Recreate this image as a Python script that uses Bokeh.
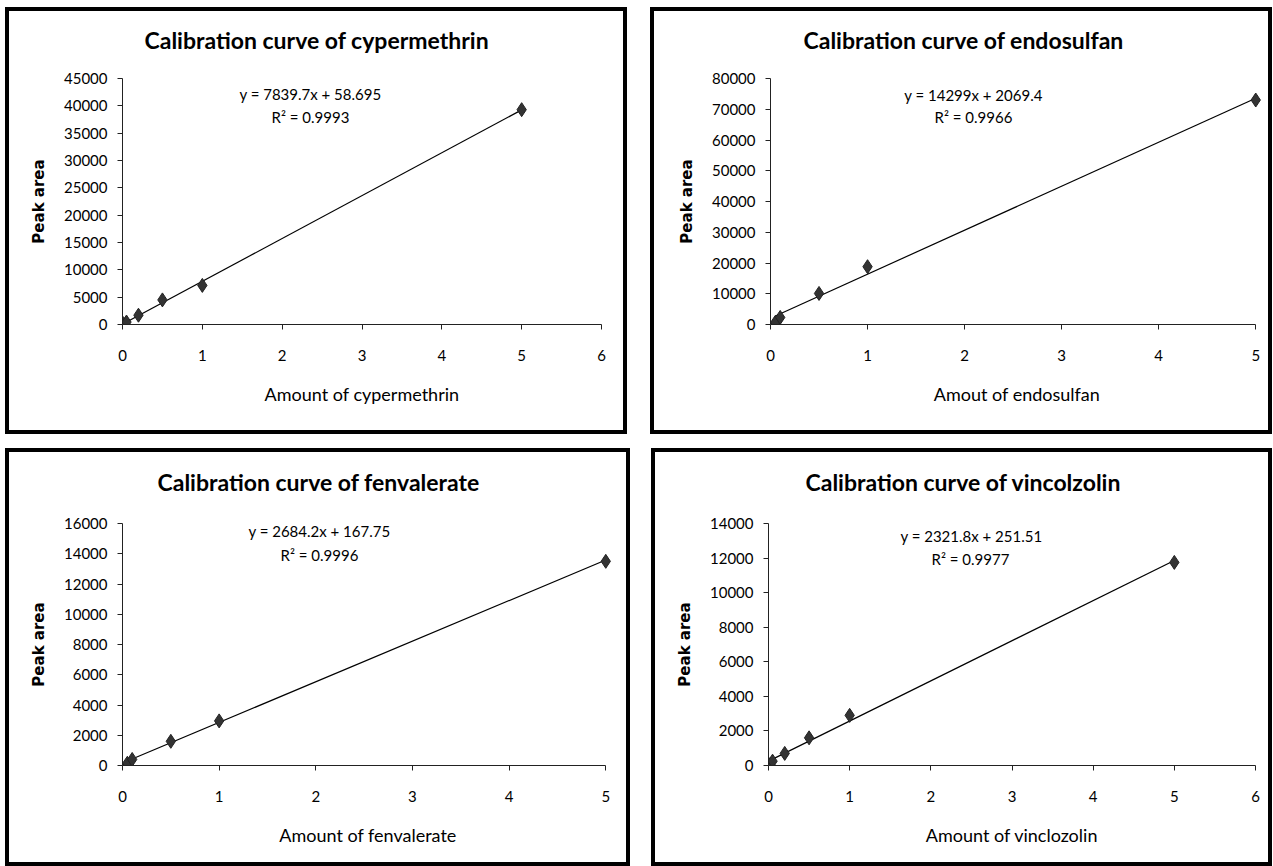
from bokeh.plotting import figure
from bokeh.models import Label, FixedTicker, Range1d, Title
from bokeh.layouts import column, row
from bokeh.embed import file_html
from bokeh.resources import INLINE

# ---- data ----
cyp_x = [0.01, 0.05, 0.2, 0.5, 1, 5]
cyp_y = [150, 450, 1700, 4500, 7150, 39300]
endo_x = [0.05, 0.1, 0.5, 1, 5]
endo_y = [700, 2300, 10100, 18800, 73000]
fen_x = [0.05, 0.1, 0.5, 1, 5]
fen_y = [150, 400, 1600, 2950, 13500]
vin_x = [0.02, 0.05, 0.2, 0.5, 1, 5]
vin_y = [60, 250, 700, 1600, 2900, 11750]

slopes = [7839.7, 14299, 2684.2, 2321.8]
intercepts = [58.695, 2069.4, 167.75, 251.51]
r2_values = ["0.9993", "0.9966", "0.9996", "0.9977"]
titles = ["Calibration curve of cypermethrin", "Calibration curve of endosulfan",
          "Calibration curve of fenvalerate", "Calibration curve of vincolzolin"]
x_titles = ["Amount of cypermethrin", "Amout of endosulfan",
            "Amount of fenvalerate", "Amount of vinclozolin"]
y_title = "Peak area"
x_max = [6, 5, 5, 6]
y_max = [45000, 80000, 16000, 14000]
y_step = [5000, 10000, 2000, 2000]
xs_all = [cyp_x, endo_x, fen_x, vin_x]
ys_all = [cyp_y, endo_y, fen_y, vin_y]

# ---- layout (pixels) ----
# (left, frame_w, right, top, frame_h, bottom)
geom = [
    (113, 471, 30, 67, 238, 114),
    (116, 485, 13, 67, 238, 114),
    (113, 483, 21, 71, 234, 105),
    (113, 479, 21, 71, 234, 105),
]
x_pad = [0, 0.08, 0.08, 0]          # room so edge markers are not clipped
title_offset = [22, 33, 35, 37]
title_standoff = [17, 17, 23, 23]
# frame-relative screen positions (x from frame left, y up from frame bottom)
eq_pos = [(188, 231), (203, 230), (197, 235), (203, 230)]
r2_pos = [(188, 208), (203, 208), (197, 211), (202, 207)]

FONT = "Lato"


def make_panel(i):
    xs, ys = xs_all[i], ys_all[i]
    l, fw, r, t, fh, b = geom[i]
    p = figure(x_range=Range1d(0, x_max[i] + x_pad[i]), y_range=Range1d(0, y_max[i]),
               frame_width=fw, frame_height=fh,
               min_border_left=l, min_border_right=r,
               min_border_top=t, min_border_bottom=b,
               output_backend="svg", toolbar_location=None)
    p.styles = {"border": "4px solid black"}
    p.xgrid.visible = False
    p.ygrid.visible = False
    p.outline_line_color = None
    p.background_fill_color = "white"
    p.border_fill_color = "white"

    # spacer between frame and title (keeps title higher above the frame)
    p.add_layout(Title(text=" ", text_font_size="12px", standoff=0), "above")

    p.title.text = titles[i]
    p.title.align = "left"
    p.title.offset = title_offset[i]
    p.title.standoff = title_standoff[i]
    p.title.text_font = FONT
    p.title.text_font_size = "23px"
    p.title.text_font_style = "bold"
    p.title.text_color = "black"

    p.xaxis.ticker = FixedTicker(ticks=list(range(0, x_max[i] + 1)))
    p.xaxis.bounds = (0, x_max[i])
    p.yaxis.ticker = FixedTicker(ticks=list(range(0, y_max[i] + 1, y_step[i])))
    for ax in (p.xaxis, p.yaxis):
        ax.minor_tick_line_color = None
        ax.major_tick_in = 0
        ax.major_tick_out = 5
        ax.axis_line_color = "#222222"
        ax.major_tick_line_color = "#222222"
        ax.major_label_text_font = FONT
        ax.major_label_text_font_size = "15px"
        ax.major_label_text_color = "black"
    p.xaxis.major_label_standoff = 20
    p.yaxis.major_label_standoff = 10
    p.xaxis.axis_label = x_titles[i]
    p.xaxis.axis_label_text_font = FONT
    p.xaxis.axis_label_text_font_size = "18px"
    p.xaxis.axis_label_text_font_style = "normal"
    p.xaxis.axis_label_text_color = "black"
    p.xaxis.axis_label_standoff = 19
    p.yaxis.axis_label = y_title
    p.yaxis.axis_label_text_font = "DejaVu Sans"
    p.yaxis.axis_label_text_font_size = "15px"
    p.yaxis.axis_label_text_font_style = "bold"
    p.yaxis.axis_label_text_color = "black"
    p.yaxis.axis_label_standoff = 13

    # regression line from the fit coefficients
    lx = [min(xs), max(xs)]
    ly = [slopes[i] * x + intercepts[i] for x in lx]
    p.line(lx, ly, line_color="black", line_width=1.2)
    p.scatter(xs, ys, marker="diamond", size=14, fill_color="#333333",
              line_color="#222222", line_width=1)

    ex, ey = eq_pos[i]
    p.add_layout(Label(x=ex, y=ey, x_units="screen", y_units="screen",
                       text=f"y = {slopes[i]:g}x + {intercepts[i]:g}",
                       text_align="center", text_baseline="middle",
                       text_font=FONT, text_font_size="15px", text_color="black"))
    rx, ry = r2_pos[i]
    p.add_layout(Label(x=rx, y=ry, x_units="screen", y_units="screen",
                       text=f"R\u00b2 = {r2_values[i]}",
                       text_align="center", text_baseline="middle",
                       text_font=FONT, text_font_size="15px", text_color="black"))
    return p


panels = [make_panel(i) for i in range(4)]
layout = column(row(panels[0], panels[1], spacing=23),
                row(panels[2], panels[3], spacing=21),
                spacing=14,
                styles={"margin-left": "5px", "margin-top": "7px"})

open("out.html", "w").write(file_html(layout, INLINE))
